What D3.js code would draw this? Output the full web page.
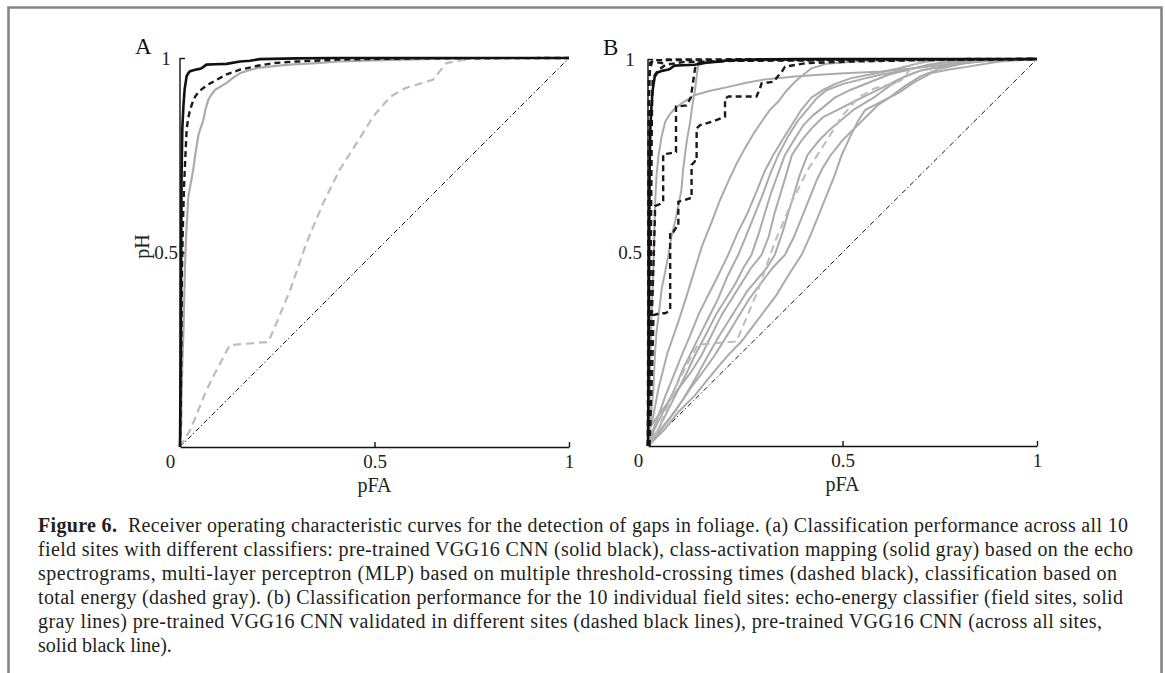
<!DOCTYPE html>
<html lang="en">

<head>
    <meta charset="UTF-8">
    <title>ROC curves, gaps in foliage</title>
    <style>
        body {
            margin: 0;
            background: #fff;
        }

        svg {
            display: block;
            font-family: "Liberation Serif", "DejaVu Serif", serif;
        }

        .axis path,
        .axis line {
            stroke: #111;
            stroke-width: 1.4;
            fill: none;
        }

        .axis text {
            font-size: 19px;
            fill: #222;
            font-family: "Liberation Serif", serif;
        }

        .caption {
            font-size: 20px;
            fill: #231f20;
            white-space: pre;
        }
    </style>
</head>

<body>
    <svg width="1165" height="673"></svg>

    <script src="https://d3js.org/d3.v7.min.js"></script>
    <script>
        // ---- panel A: all sites ----
        const cnnAll = [[0, 0], [0.002, 0.25], [0.003, 0.5], [0.004, 0.7], [0.006, 0.82], [0.009, 0.88], [0.012, 0.92], [0.017, 0.953], [0.022, 0.962], [0.026, 0.966], [0.039, 0.97], [0.05, 0.972], [0.056, 0.974], [0.068, 0.983], [0.09, 0.984], [0.12, 0.985], [0.154, 0.991], [0.18, 0.993], [0.205, 0.997], [0.3, 0.999], [0.4, 1], [1, 1]];
        const mlpAll = [[0, 0], [0.003, 0.2], [0.005, 0.45], [0.007, 0.55], [0.01, 0.66], [0.013, 0.73], [0.017, 0.815], [0.021, 0.845], [0.026, 0.867], [0.032, 0.885], [0.039, 0.901], [0.048, 0.913], [0.06, 0.923], [0.075, 0.933], [0.094, 0.944], [0.12, 0.958], [0.154, 0.97], [0.2, 0.98], [0.24, 0.987], [0.3, 0.991], [0.41, 0.996], [0.6, 0.999], [1, 1]];
        const camAll = [[0, 0], [0.003, 0.06], [0.004, 0.13], [0.006, 0.22], [0.009, 0.3], [0.011, 0.39], [0.013, 0.47], [0.016, 0.55], [0.019, 0.6], [0.021, 0.64], [0.026, 0.67], [0.03, 0.69], [0.035, 0.72], [0.039, 0.75], [0.043, 0.775], [0.047, 0.8], [0.053, 0.82], [0.06, 0.84], [0.066, 0.87], [0.073, 0.893], [0.08, 0.905], [0.09, 0.918], [0.105, 0.927], [0.12, 0.936], [0.135, 0.948], [0.154, 0.961], [0.175, 0.968], [0.197, 0.974], [0.24, 0.979], [0.283, 0.983], [0.35, 0.987], [0.41, 0.991], [0.5, 0.994], [0.58, 0.996], [0.66, 0.998], [0.75, 1], [1, 1]];
        const energyAll = [[0, 0], [0.026, 0.043], [0.068, 0.146], [0.09, 0.19], [0.128, 0.262], [0.227, 0.27], [0.24, 0.3], [0.283, 0.403], [0.325, 0.524], [0.368, 0.627], [0.41, 0.712], [0.454, 0.781], [0.497, 0.85], [0.54, 0.9], [0.58, 0.923], [0.65, 0.944], [0.685, 0.987], [0.753, 1], [1, 1]];

        // ---- panel B: individual sites ----
        const cnnSiteA = [[0.004, 0], [0.008, 0.12], [0.012, 0.25], [0.014, 0.338], [0.031, 0.343], [0.044, 0.343], [0.057, 0.35], [0.057, 0.553], [0.065, 0.553], [0.074, 0.567], [0.078, 0.567], [0.078, 0.631], [0.095, 0.636], [0.108, 0.64], [0.112, 0.64], [0.112, 0.726], [0.121, 0.736], [0.125, 0.736], [0.125, 0.821], [0.134, 0.829], [0.17, 0.84], [0.198, 0.851], [0.198, 0.898], [0.207, 0.903], [0.279, 0.903], [0.288, 0.924], [0.292, 0.937], [0.322, 0.941], [0.344, 0.967], [0.352, 0.98], [0.404, 0.989], [0.506, 0.993], [0.7, 0.997], [1, 1]];
        const cnnSiteB = [[0, 0], [0.005, 0.2], [0.012, 0.4], [0.018, 0.6], [0.018, 0.62], [0.03, 0.625], [0.039, 0.63], [0.039, 0.754], [0.055, 0.756], [0.072, 0.76], [0.072, 0.877], [0.099, 0.88], [0.11, 0.9], [0.121, 0.976], [0.13, 0.99], [0.2, 0.995], [1, 1]];
        const cnnSiteC = [[0, 0], [0.001, 0.5], [0.003, 0.9], [0.005, 0.99], [0.02, 0.997], [1, 1]];
        const cnnSiteD = [[0, 0], [0.006, 0.3], [0.008, 0.6], [0.01, 0.85], [0.012, 0.95], [0.025, 0.97], [0.045, 0.985], [0.09, 0.992], [0.3, 0.997], [1, 1]];
        const cnnSiteE = [[0, 0], [0.001, 0.7], [0.002, 0.954], [0.01, 0.993], [0.04, 0.989], [0.049, 0.999], [1, 1]];
        const cnnSites = [cnnSiteA, cnnSiteB, cnnSiteC, cnnSiteD, cnnSiteE];

        const site1 = [[0, 0], [0.004, 0.1], [0.006, 0.21], [0.009, 0.33], [0.012, 0.41], [0.015, 0.5], [0.018, 0.62], [0.022, 0.7], [0.027, 0.75], [0.035, 0.8], [0.044, 0.837], [0.055, 0.856], [0.069, 0.872], [0.09, 0.888], [0.121, 0.907], [0.16, 0.918], [0.207, 0.928], [0.25, 0.938], [0.292, 0.946], [0.34, 0.951], [0.378, 0.955], [0.45, 0.96], [0.506, 0.963], [0.6, 0.968], [0.7, 0.978], [0.8, 0.99], [0.9, 0.997], [1, 1]];
        const site2 = [[0, 0.02], [0.006, 0.06], [0.014, 0.149], [0.018, 0.24], [0.022, 0.295], [0.03, 0.36], [0.035, 0.405], [0.044, 0.45], [0.052, 0.491], [0.06, 0.54], [0.069, 0.577], [0.078, 0.62], [0.086, 0.663], [0.09, 0.71], [0.095, 0.752], [0.1, 0.79], [0.108, 0.835], [0.114, 0.88], [0.121, 0.921], [0.125, 0.955], [0.129, 0.984], [0.15, 0.993], [0.25, 0.997], [1, 1]];
        const site3 = [[0, 0.03], [0.012, 0.07], [0.027, 0.149], [0.05, 0.24], [0.078, 0.321], [0.1, 0.39], [0.121, 0.459], [0.14, 0.52], [0.164, 0.58], [0.185, 0.635], [0.206, 0.683], [0.228, 0.73], [0.249, 0.769], [0.27, 0.805], [0.292, 0.838], [0.313, 0.868], [0.335, 0.89], [0.356, 0.918], [0.378, 0.941], [0.4, 0.96], [0.42, 0.976], [0.46, 0.988], [0.55, 0.995], [1, 1]];
        const site4 = [[0, 0.01], [0.02, 0.06], [0.045, 0.13], [0.065, 0.18], [0.087, 0.235], [0.11, 0.29], [0.13, 0.34], [0.155, 0.39], [0.18, 0.44], [0.206, 0.494], [0.23, 0.55], [0.255, 0.6], [0.28, 0.66], [0.3, 0.71], [0.322, 0.752], [0.345, 0.79], [0.37, 0.83], [0.395, 0.87], [0.42, 0.9], [0.45, 0.92], [0.48, 0.935], [0.52, 0.95], [0.58, 0.962], [0.64, 0.975], [0.7, 0.99], [0.75, 0.998], [1, 1]];
        const site5 = [[0, 0], [0.015, 0.04], [0.04, 0.09], [0.07, 0.15], [0.09, 0.2], [0.108, 0.235], [0.13, 0.28], [0.155, 0.33], [0.18, 0.38], [0.205, 0.44], [0.232, 0.494], [0.255, 0.55], [0.275, 0.6], [0.295, 0.65], [0.315, 0.705], [0.335, 0.752], [0.36, 0.8], [0.385, 0.84], [0.41, 0.87], [0.435, 0.9], [0.46, 0.92], [0.5, 0.935], [0.55, 0.948], [0.6, 0.96], [0.66, 0.97], [0.72, 0.985], [0.8, 0.997], [1, 1]];
        const site6 = [[0, 0], [0.02, 0.03], [0.05, 0.09], [0.08, 0.15], [0.1, 0.19], [0.121, 0.235], [0.15, 0.29], [0.175, 0.34], [0.2, 0.38], [0.225, 0.42], [0.245, 0.46], [0.266, 0.494], [0.285, 0.55], [0.3, 0.6], [0.315, 0.65], [0.333, 0.7], [0.352, 0.752], [0.375, 0.79], [0.4, 0.83], [0.425, 0.855], [0.45, 0.875], [0.48, 0.9], [0.52, 0.92], [0.57, 0.94], [0.62, 0.96], [0.68, 0.975], [0.75, 0.99], [0.85, 0.998], [1, 1]];
        const site7 = [[0, 0.04], [0.02, 0.07], [0.05, 0.11], [0.08, 0.15], [0.11, 0.19], [0.138, 0.235], [0.165, 0.29], [0.19, 0.34], [0.215, 0.38], [0.24, 0.42], [0.265, 0.46], [0.292, 0.494], [0.31, 0.54], [0.325, 0.6], [0.34, 0.65], [0.355, 0.7], [0.37, 0.752], [0.395, 0.79], [0.42, 0.82], [0.45, 0.85], [0.49, 0.87], [0.52, 0.885], [0.55, 0.9], [0.6, 0.925], [0.65, 0.95], [0.7, 0.97], [0.78, 0.985], [0.88, 0.997], [1, 1]];
        const site8 = [[0, 0], [0.025, 0.03], [0.055, 0.07], [0.09, 0.12], [0.125, 0.18], [0.155, 0.235], [0.18, 0.28], [0.205, 0.32], [0.23, 0.36], [0.255, 0.4], [0.28, 0.43], [0.305, 0.46], [0.326, 0.494], [0.345, 0.55], [0.36, 0.6], [0.375, 0.65], [0.39, 0.7], [0.41, 0.752], [0.44, 0.79], [0.47, 0.82], [0.5, 0.845], [0.53, 0.87], [0.58, 0.9], [0.62, 0.93], [0.66, 0.955], [0.7, 0.97], [0.76, 0.982], [0.85, 0.995], [1, 1]];
        const site9 = [[0, 0.02], [0.03, 0.04], [0.07, 0.09], [0.11, 0.15], [0.14, 0.19], [0.172, 0.235], [0.2, 0.28], [0.23, 0.33], [0.26, 0.38], [0.29, 0.42], [0.32, 0.46], [0.352, 0.494], [0.375, 0.54], [0.395, 0.59], [0.415, 0.64], [0.435, 0.69], [0.45, 0.72], [0.47, 0.752], [0.5, 0.79], [0.53, 0.82], [0.56, 0.85], [0.59, 0.88], [0.62, 0.9], [0.66, 0.93], [0.7, 0.955], [0.75, 0.975], [0.82, 0.99], [0.9, 0.998], [1, 1]];
        const site10 = [[0, 0], [0.04, 0.04], [0.08, 0.09], [0.12, 0.13], [0.16, 0.18], [0.185, 0.21], [0.206, 0.235], [0.24, 0.27], [0.27, 0.31], [0.3, 0.35], [0.33, 0.39], [0.36, 0.44], [0.395, 0.494], [0.42, 0.55], [0.44, 0.6], [0.46, 0.65], [0.48, 0.7], [0.498, 0.752], [0.52, 0.8], [0.54, 0.84], [0.558, 0.868], [0.6, 0.89], [0.643, 0.912], [0.685, 0.94], [0.729, 0.964], [0.77, 0.972], [0.815, 0.979], [0.9, 0.993], [1, 1]];
        const energySites = [site1, site2, site3, site4, site5, site6, site7, site8, site9, site10];

        const xTicks = [0, 0.5, 1];
        const yTicks = [0.5, 1];
        const chance = [[0, 0], [1, 1]];

        const captionLines = [
            "field sites with different classifiers: pre-trained VGG16 CNN (solid black), class-activation mapping (solid gray) based on the echo",
            "spectrograms, multi-layer perceptron (MLP) based on multiple threshold-crossing times (dashed black), classification based on",
            "total energy (dashed gray). (b) Classification performance for the 10 individual field sites: echo-energy classifier (field sites, solid",
            "gray lines) pre-trained VGG16 CNN validated in different sites (dashed black lines), pre-trained VGG16 CNN (across all sites,",
            "solid black line)."
        ];
        const captionFirst = "  Receiver operating characteristic curves for the detection of gaps in foliage. (a) Classification performance across all 10";
        const captionWidths = [1090, 1095, 1079, 1085, 1064, null];

        const svg = d3.select("svg");
        svg.append("rect").attr("width", 1165).attr("height", 673).attr("fill", "#fff");

        // page frame
        svg.append("path")
            .attr("d", "M8.5,673V7.5H1161.5V673")
            .attr("fill", "none")
            .attr("stroke", "#858585")
            .attr("stroke-width", 2.6);

        const gray = "#ababab";

        function panel(left, right, top, bottom, label, yLabelOffset, showYTitle) {
            const x = d3.scaleLinear().domain([0, 1]).range([left, right]);
            const y = d3.scaleLinear().domain([0, 1]).range([bottom, top]);
            const line = d3.line().x(d => x(d[0])).y(d => y(d[1]));
            const g = svg.append("g");

            g.append("path")
                .attr("d", line(chance))
                .attr("fill", "none")
                .attr("stroke", "#111")
                .attr("stroke-width", 1)
                .attr("stroke-dasharray", "5,2.5,1.2,2.5");

            const xAxis = g.append("g")
                .attr("class", "axis")
                .attr("transform", `translate(0,${bottom})`)
                .call(d3.axisBottom(x).tickValues(xTicks).tickSize(-5).tickSizeOuter(0)
                    .tickFormat(d => d === 0.5 ? "0.5" : d3.format("d")(d)));
            xAxis.selectAll("text").attr("y", 8);
            xAxis.selectAll(".tick").filter(d => d === 0).select("text").attr("dx", -10);
            xAxis.selectAll(".tick").filter(d => d === 0).select("line").remove();

            const yAxis = g.append("g")
                .attr("class", "axis")
                .attr("transform", `translate(${left},0)`)
                .call(d3.axisLeft(y).tickValues(yTicks).tickSize(-5).tickSizeOuter(0)
                    .tickFormat(d => d === 0.5 ? "0.5" : "1"));
            yAxis.select(".domain").attr("d", `M0,${bottom}V${top}`);
            yAxis.selectAll("text")
                .attr("x", -yLabelOffset)
                .attr("text-anchor", "middle");

            g.append("text")
                .attr("x", (left + right) / 2)
                .attr("y", bottom + 45)
                .attr("text-anchor", "middle")
                .style("font-size", "20px")
                .attr("fill", "#222")
                .text("pFA");

            if (showYTitle) {
                g.append("text")
                    .attr("transform", `translate(${left - 31},${(top + bottom) / 2 - 6}) rotate(-90)`)
                    .attr("text-anchor", "middle")
                    .style("font-size", "20px")
                    .attr("fill", "#222")
                    .text("pH");
            }

            g.append("text")
                .attr("x", left - 45)
                .attr("y", top - 4)
                .style("font-size", "23px")
                .attr("fill", "#111")
                .text(label);

            return { g, line };
        }

        // Panel A
        const A = panel(180, 569, 58, 447, "A", 14, true);
        A.g.append("path").attr("d", A.line(energyAll)).attr("fill", "none")
            .attr("stroke", "#bcbcbc").attr("stroke-width", 2.2).attr("stroke-dasharray", "8,5");
        A.g.append("path").attr("d", A.line(camAll)).attr("fill", "none")
            .attr("stroke", gray).attr("stroke-width", 2.2);
        A.g.append("path").attr("d", A.line(mlpAll)).attr("fill", "none")
            .attr("stroke", "#1a1a1a").attr("stroke-width", 2.4).attr("stroke-dasharray", "6,4");
        A.g.append("path").attr("d", A.line(cnnAll)).attr("fill", "none")
            .attr("stroke", "#111").attr("stroke-width", 2.6);

        // Panel B
        const B = panel(648, 1037, 59, 446, "B", 18, false);
        B.g.selectAll(".site").data(energySites).enter().append("path")
            .attr("class", "site")
            .attr("d", B.line)
            .attr("fill", "none")
            .attr("stroke", gray)
            .attr("stroke-width", 2);
        B.g.append("path").attr("d", B.line(energyAll)).attr("fill", "none")
            .attr("stroke", "#bcbcbc").attr("stroke-width", 2).attr("stroke-dasharray", "8,5");
        B.g.selectAll(".cnnsite").data(cnnSites).enter().append("path")
            .attr("class", "cnnsite")
            .attr("d", B.line)
            .attr("fill", "none")
            .attr("stroke", "#1a1a1a")
            .attr("stroke-width", 2.4)
            .attr("stroke-dasharray", "6,4");
        B.g.append("path").attr("d", B.line(cnnAll)).attr("fill", "none")
            .attr("stroke", "#111").attr("stroke-width", 2.6);

        // caption
        const cap = svg.append("g");
        const first = cap.append("text")
            .attr("class", "caption")
            .attr("x", 38)
            .attr("y", 532)
            .attr("textLength", captionWidths[0])
            .attr("lengthAdjust", "spacing");
        first.append("tspan").attr("font-weight", "bold").text("Figure 6.");
        first.append("tspan").text(captionFirst);

        captionLines.forEach((t, i) => {
            const el = cap.append("text")
                .attr("class", "caption")
                .attr("x", 38)
                .attr("y", 532 + 24 * (i + 1))
                .text(t);
            if (captionWidths[i + 1]) {
                el.attr("textLength", captionWidths[i + 1]).attr("lengthAdjust", "spacing");
            }
        });
    </script>
</body>

</html>
